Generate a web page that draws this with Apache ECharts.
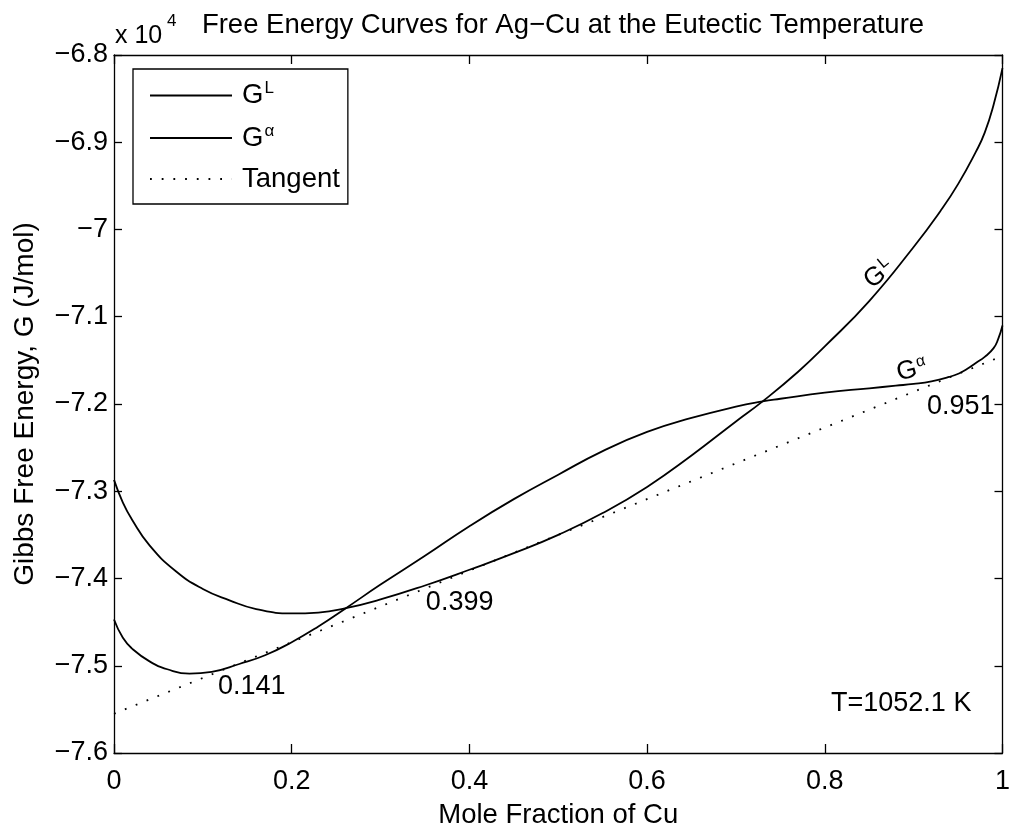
<!DOCTYPE html>
<html>
<head>
<meta charset="utf-8">
<script src="https://cdn.jsdelivr.net/npm/echarts@6/dist/echarts.min.js"></script>
<style>
html,body{margin:0;padding:0;background:#fff;}
#chart{width:1013px;height:834px;}
</style>
</head>
<body>
<div id="chart"></div>
<script>
// Values in units of 10^4 J/mol
const xLiquid = [0, 0.01, 0.02, 0.04, 0.07, 0.1, 0.13, 0.16, 0.2, 0.23, 0.261, 0.3, 0.35, 0.4, 0.45, 0.5, 0.55, 0.6, 0.65, 0.7, 0.73, 0.77, 0.8, 0.85, 0.9, 0.93, 0.95, 0.97, 0.98, 0.99, 1.0];
const gLiquid = [-7.287, -7.313, -7.332, -7.362, -7.392, -7.412, -7.425, -7.435, -7.440, -7.439, -7.434, -7.424, -7.408, -7.390, -7.371, -7.350, -7.325, -7.295, -7.259, -7.220, -7.197, -7.163, -7.134, -7.082, -7.020, -6.979, -6.948, -6.911, -6.889, -6.857, -6.815];

const xAlpha = [0, 0.01, 0.02, 0.04, 0.06, 0.085, 0.11, 0.141, 0.17, 0.2, 0.23, 0.261, 0.3, 0.35, 0.4, 0.45, 0.5, 0.55, 0.6, 0.65, 0.7, 0.73, 0.75, 0.8, 0.85, 0.88, 0.9, 0.92, 0.94, 0.951, 0.96, 0.97, 0.98, 0.99, 0.995, 1.0];
const gAlpha = [-7.447, -7.468, -7.480, -7.495, -7.504, -7.509, -7.507, -7.498, -7.488, -7.473, -7.455, -7.434, -7.407, -7.374, -7.340, -7.309, -7.281, -7.254, -7.232, -7.216, -7.203, -7.197, -7.194, -7.187, -7.182, -7.179, -7.177, -7.174, -7.169, -7.165, -7.160, -7.153, -7.146, -7.136, -7.126, -7.110];

const xTangent = [0, 1];
const gTangent = [-7.555, -7.145];

const xTicks = [0, 0.2, 0.4, 0.6, 0.8, 1];
const yTicks = [-7.6, -7.5, -7.4, -7.3, -7.2, -7.1, -7.0, -6.9, -6.8];

const seriesNames = ['GL', 'Galpha', 'Tangent'];
const annotationText = ['0.141', '0.399', '0.951', 'T=1052.1 K'];
const annotationX = [0.117, 0.351, 0.915, 0.965];
const annotationY = [-7.524, -7.427, -7.203, -7.543];

const titleText = 'Free Energy Curves for Ag\u2212Cu at the Eutectic Temperature';
const xName = 'Mole Fraction of Cu';
const yName = 'Gibbs Free Energy, G (J/mol)';

const FONT = '"Liberation Sans", Arial, Helvetica, sans-serif';
const BLACK = '#000';

function zip(xs, ys) { return xs.map((x, i) => [x, ys[i]]); }

const chart = echarts.init(document.getElementById('chart'), null, {renderer: 'canvas'});

const axisLineStyle = {color: BLACK, width: 1.3};
const baseX = {
  type: 'value', min: xTicks[0], max: xTicks[xTicks.length - 1], interval: 0.2,
  axisLine: {show: true, onZero: false, lineStyle: axisLineStyle},
  axisTick: {show: true, inside: true, length: 9, lineStyle: axisLineStyle},
  splitLine: {show: false}
};
const baseY = {
  type: 'value', min: yTicks[0], max: yTicks[yTicks.length - 1], interval: 0.1,
  axisLine: {show: true, onZero: false, lineStyle: axisLineStyle},
  axisTick: {show: true, inside: true, length: 8, lineStyle: axisLineStyle},
  splitLine: {show: false}
};

const fmtX = v => { const r = Math.round(v * 10) / 10; return String(r); };
const fmtY = v => { const r = Math.round(v * 10) / 10; return (r < 0 ? '\u2212' : '') + String(Math.abs(r)); };

const legendLabels = {
  GL: '{b|G}{s|L}',
  Galpha: '{b|G}{s|\u03b1}',
  Tangent: '{b|Tangent}'
};

const plainLabel = {textBorderWidth: 0, textBorderColor: 'transparent', textShadowBlur: 0, opacity: 1};

const annData = annotationText.map((t, i) => ({
  value: [annotationX[i], annotationY[i]],
  label: {
    formatter: t,
    align: i === 3 ? 'right' : 'left'
  }
}));

const option = {
  backgroundColor: '#fff',
  animation: false,
  grid: {left: 114, right: 7, top: 55, bottom: 77, containLabel: false},
  xAxis: [
    Object.assign({}, baseX, {
      position: 'bottom',
      axisLabel: {show: true, fontSize: 27, fontFamily: FONT, color: BLACK, margin: 15, formatter: fmtX},
      name: xName, nameLocation: 'middle', nameGap: 48,
      nameTextStyle: {fontSize: 27.5, fontFamily: FONT, color: BLACK}
    }),
    Object.assign({}, baseX, {position: 'top', axisLabel: {show: false}})
  ],
  yAxis: [
    Object.assign({}, baseY, {
      position: 'left',
      axisLabel: {show: true, fontSize: 27, fontFamily: FONT, color: BLACK, margin: 6, formatter: fmtY},
      name: yName, nameLocation: 'middle', nameGap: 75, nameRotate: 90,
      nameTextStyle: {fontSize: 28, fontFamily: FONT, color: BLACK}
    }),
    Object.assign({}, baseY, {position: 'right', axisLabel: {show: false}})
  ],
  legend: {
    data: seriesNames,
    orient: 'vertical',
    left: 133, top: 69,
    itemWidth: 82, itemHeight: 14, itemGap: 13,
    padding: [11, 8, 11, 16],
    borderColor: BLACK, borderWidth: 1.3,
    backgroundColor: '#fff',
    selectedMode: false,
    itemStyle: {opacity: 0, color: 'transparent', borderWidth: 0},
    formatter: n => legendLabels[n],
    textStyle: {
      color: BLACK, fontFamily: FONT, fontSize: 27,
      rich: {
        b: {fontSize: 27.5, fontFamily: FONT, color: BLACK, padding: [0, 0, 0, 5]},
        s: {fontSize: 17, fontFamily: FONT, color: BLACK, padding: [0, 0, 14, 1]}
      }
    }
  },
  graphic: [
    {type: 'text', x: 563, y: 25, style: {text: titleText, font: '27.5px ' + FONT, fill: BLACK, textAlign: 'center', textVerticalAlign: 'middle'}},
    {type: 'text', x: 115, y: 36, style: {text: 'x 10', font: '25px ' + FONT, fill: BLACK, textAlign: 'left', textVerticalAlign: 'middle'}},
    {type: 'text', x: 167, y: 21, style: {text: '4', font: '17px ' + FONT, fill: BLACK, textAlign: 'left', textVerticalAlign: 'middle'}}
  ],
  series: [
    {
      name: 'GL', type: 'line', data: zip(xLiquid, gLiquid), smooth: 0.5,
      symbol: 'none', lineStyle: {color: BLACK, width: 1.8}, itemStyle: {color: BLACK}, z: 3
    },
    {
      name: 'Galpha', type: 'line', data: zip(xAlpha, gAlpha), smooth: 0.5,
      symbol: 'none', lineStyle: {color: BLACK, width: 1.8}, itemStyle: {color: BLACK}, z: 3
    },
    {
      name: 'Tangent', type: 'line', data: zip(xTangent, gTangent),
      symbol: 'none', lineStyle: {color: BLACK, width: 1.8, type: [1.8, 9.9]}, itemStyle: {color: BLACK}, z: 2
    },
    {
      name: 'annotations', type: 'scatter', data: annData, symbolSize: 0, silent: true,
      itemStyle: {color: BLACK, opacity: 1},
      label: Object.assign({show: true, position: 'inside', verticalAlign: 'middle', fontSize: 27, fontFamily: FONT, color: BLACK}, plainLabel)
    },
    {
      name: 'curveLabels', type: 'scatter', symbolSize: 0, silent: true,
      itemStyle: {color: BLACK, opacity: 1},
      data: [
        {value: [0.861, -7.051], label: {formatter: '{b|G}{s|L}', rotate: 40}},
        {value: [0.898, -7.161], label: {formatter: '{b|G}{s|\u03b1}', rotate: 15}}
      ],
      label: Object.assign({
        show: true, position: 'inside', align: 'center', verticalAlign: 'middle', color: BLACK,
        rich: {
          b: {fontSize: 26, fontFamily: FONT, color: BLACK, textBorderWidth: 0},
          s: {fontSize: 16, fontFamily: FONT, color: BLACK, textBorderWidth: 0, padding: [0, 0, 12, 1]}
        }
      }, plainLabel)
    }
  ]
};

chart.setOption(option);
</script>
</body>
</html>
